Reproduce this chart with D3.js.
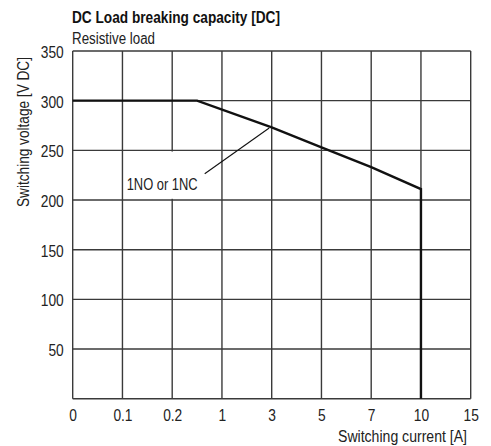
<!DOCTYPE html>
<html><head><meta charset="utf-8">
<script src="https://cdn.jsdelivr.net/npm/d3@7"></script>
<style>body{margin:0;background:#fff}svg{display:block}</style>
</head><body><svg id="c" width="491" height="446"></svg>
<script>
const xTicks = [0, 0.1, 0.2, 1, 3, 5, 7, 10, 15];
const xTickLabels = ["0", "0.1", "0.2", "1", "3", "5", "7", "10", "15"];
const yTicks = [50, 100, 150, 200, 250, 300, 350];
const curveCurrent = [0, 0.6, 3, 5, 7, 10, 10];
const curveVoltage = [300, 300, 273, 253, 233, 211, 0];
const seriesName = "1NO or 1NC";
const labelAnchor = [2.9, 274]; // point on curve where leader starts (current, voltage)

const font = "'Liberation Sans',Arial,sans-serif";
const squeeze = 0.86;
const svg = d3.select("#c");
const L = 72.7, R = 470.7, T = 51, B = 398.7;
const x = d3.scaleLinear().domain(xTicks).range(xTicks.map((d,i)=>L + i*(R-L)/(xTicks.length-1)));
const y = d3.scaleLinear().domain([0, 350]).range([B, T]);

function condense(sel){
  sel.each(function(){
    const w = this.getComputedTextLength();
    d3.select(this).attr("textLength", w*squeeze).attr("lengthAdjust", "spacingAndGlyphs");
  });
}

// grid
const g = svg.append("g");
g.selectAll("line.v").data(xTicks).join("line")
  .attr("x1", d=>x(d)).attr("x2", d=>x(d)).attr("y1", T).attr("y2", B)
  .attr("stroke", "#3a3a3a").attr("stroke-width", 1.4);
g.selectAll("line.h").data([0].concat(yTicks)).join("line")
  .attr("y1", d=>y(d)).attr("y2", d=>y(d)).attr("x1", L).attr("x2", R)
  .attr("stroke", "#3a3a3a").attr("stroke-width", 1.4);

// axes labels
const xa = svg.append("g").attr("transform", `translate(0,${B})`)
  .call(d3.axisBottom(x).tickValues(xTicks).tickFormat((d,i)=>xTickLabels[i]).tickSize(0).tickPadding(0));
xa.select(".domain").remove();
xa.selectAll("text").attr("font-family", font).attr("font-size", 16).attr("fill", "#222")
  .attr("dy", null).attr("y", 22.5).call(condense);

const ya = svg.append("g").attr("transform", `translate(${L},0)`)
  .call(d3.axisLeft(y).tickValues(yTicks).tickSize(0).tickPadding(9));
ya.select(".domain").remove();
ya.selectAll("text").attr("font-family", font).attr("font-size", 16).attr("fill", "#222")
  .attr("dy", "0.4em").call(condense);

// label background (hides the grid segment behind the label, as in the original)
svg.append("rect").attr("x", x(0.1) + 1.5).attr("y", y(250) + 1.2)
  .attr("width", 78).attr("height", y(200) - y(250) - 2.4).attr("fill", "#fff");

// curve
const line = d3.line().x(d=>x(d[0])).y(d=>y(d[1]));
svg.append("path").datum(d3.zip(curveCurrent, curveVoltage))
  .attr("d", line).attr("fill", "none").attr("stroke", "#111").attr("stroke-width", 2.4)
  .attr("stroke-linejoin", "miter");

// label + leader
const ax = x(labelAnchor[0]), ay = y(labelAnchor[1]);
svg.append("line").attr("x1", ax).attr("y1", ay+1.5).attr("x2", 204.7).attr("y2", 173.7)
  .attr("stroke", "#111").attr("stroke-width", 1.1);
svg.append("text").attr("x", 197.7).attr("y", 190).attr("text-anchor", "end")
  .attr("font-family", font).attr("font-size", 16).attr("fill", "#222").text(seriesName)
  .attr("textLength", 71).attr("lengthAdjust", "spacingAndGlyphs");

// titles
svg.append("text").attr("x", 72).attr("y", 22.7).attr("font-family", font).attr("font-weight", "bold")
  .attr("font-size", 16).attr("fill", "#111").text("DC Load breaking capacity [DC]")
  .attr("textLength", 208).attr("lengthAdjust", "spacingAndGlyphs");
svg.append("text").attr("x", 72).attr("y", 44).attr("font-family", font)
  .attr("font-size", 16).attr("fill", "#222").text("Resistive load")
  .attr("textLength", 83).attr("lengthAdjust", "spacingAndGlyphs");
svg.append("text").attr("x", 467).attr("y", 441.5).attr("text-anchor", "end").attr("font-family", font)
  .attr("font-size", 16).attr("fill", "#222").text("Switching current [A]")
  .attr("textLength", 129).attr("lengthAdjust", "spacingAndGlyphs");
svg.append("text").attr("transform", "translate(28.7,132) rotate(-90)").attr("text-anchor", "middle")
  .attr("font-family", font).attr("font-size", 16).attr("fill", "#222").text("Switching voltage [V DC]")
  .attr("textLength", 150).attr("lengthAdjust", "spacingAndGlyphs");
</script></body></html>
